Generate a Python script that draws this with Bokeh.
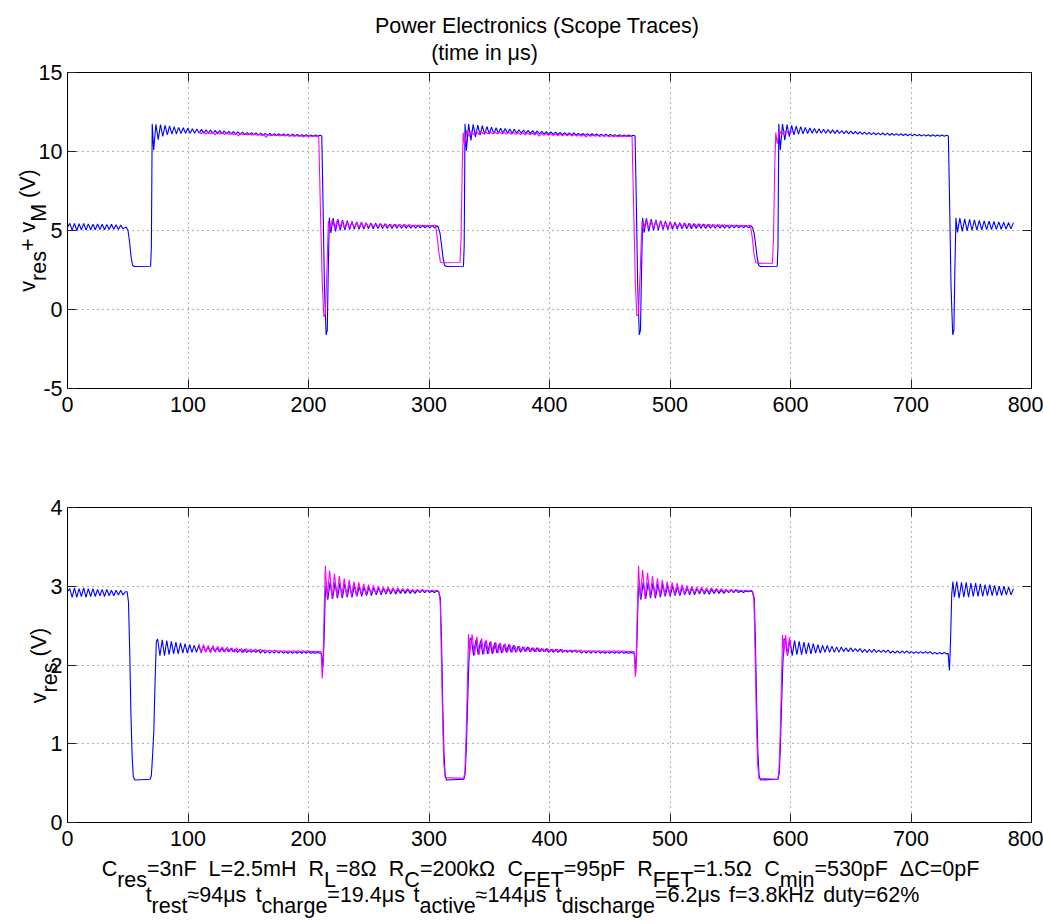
import re
import numpy as np
from bokeh.plotting import figure
from bokeh.models import LinearAxis, FixedTicker, CustomJSTickFormatter, Range1d, ColumnDataSource
from bokeh.core.properties import value
from bokeh.layouts import column
from bokeh.embed import file_html
from bokeh.resources import INLINE

# ---------------------------------------------------------------- axes data
X_TICKS = [0, 100, 200, 300, 400, 500, 600, 700, 800]
TOP_Y_TICKS = [-5, 0, 5, 10, 15]
BOT_Y_TICKS = [0, 1, 2, 3, 4]

# ---------------------------------------------------------------- v_res + v_M, measured (blue)
TB_IDLE0 = [5.2, 5.45, 5.02, 5.45, 5.0, 5.43, 5.04, 5.45, 5.03, 5.42, 5.05, 5.4, 5.05,
            5.42, 5.06, 5.4, 5.05, 5.38, 5.06, 5.4, 5.08, 5.37, 5.07, 5.35, 5.1, 5.2]
TB_EDGE1 = [(48.8, 5.2), (50.2, 5.0), (51.5, 4.3), (52.8, 3.3), (54.0, 2.8), (55.5, 2.72),
            (69.0, 2.74), (69.6, 4.0), (70.3, 11.75)]
TB_ACT1 = [10.1, 11.72, 10.75, 11.7, 10.95, 11.66, 11.05, 11.62, 11.1, 11.57,
           11.12, 11.53, 11.14, 11.5, 11.15, 11.47, 11.16, 11.44, 11.16, 11.42,
           11.16, 11.4, 11.15, 11.38, 11.15, 11.36, 11.14, 11.34, 11.13, 11.32,
           11.12, 11.3, 11.11, 11.28, 11.1, 11.26, 11.09, 11.24, 11.08, 11.22,
           11.07, 11.2, 11.06, 11.19, 11.05, 11.18, 11.04, 11.16, 11.03, 11.15,
           11.02, 11.14, 11.02, 11.13, 11.01, 11.12, 11.0, 11.11, 11.0, 11.1,
           10.99, 11.09, 10.98, 11.08, 10.98, 11.07, 10.97, 11.06, 10.97, 11.05,
           10.96, 11.04, 10.96, 11.03]
TB_DIS1 = [(211.0, 10.98), (212.0, 7.0), (213.2, 1.5), (214.6, -1.6), (215.6, -1.3),
           (216.4, 2.5), (217.3, 5.8)]
TB_IDLE1 = [4.85, 5.78, 4.95, 5.72, 5.0, 5.66, 5.03, 5.62, 5.05, 5.58,
            5.07, 5.55, 5.08, 5.52, 5.09, 5.5, 5.1, 5.48, 5.11, 5.46,
            5.12, 5.44, 5.12, 5.42, 5.13, 5.4, 5.13, 5.39, 5.14, 5.38,
            5.14, 5.37, 5.15, 5.36, 5.15, 5.35, 5.15, 5.34, 5.16, 5.34,
            5.16, 5.33, 5.16, 5.32, 5.17, 5.3]
TB_EDGE2 = [(307.8, 5.2), (309.2, 4.8), (310.5, 4.0), (311.8, 3.2), (313.0, 2.78), (314.5, 2.72),
            (328.6, 2.74), (329.2, 4.0), (329.9, 11.75)]
TB_ACT2 = [10.05, 11.74, 10.7, 11.72, 10.92, 11.67, 11.04, 11.63, 11.09, 11.58,
           11.11, 11.54, 11.13, 11.5, 11.15, 11.47, 11.15, 11.45, 11.16, 11.42,
           11.16, 11.4, 11.15, 11.38, 11.15, 11.36, 11.14, 11.34, 11.13, 11.32,
           11.12, 11.3, 11.11, 11.28, 11.1, 11.26, 11.09, 11.24, 11.08, 11.22,
           11.07, 11.21, 11.06, 11.19, 11.05, 11.18, 11.04, 11.17, 11.03, 11.15,
           11.03, 11.14, 11.02, 11.13, 11.01, 11.12, 11.01, 11.11, 11.0, 11.1,
           10.99, 11.09, 10.99, 11.08, 10.98, 11.07, 10.97, 11.06, 10.97, 11.05,
           10.96, 11.05, 10.96, 11.03]
TB_DIS2 = [(471.0, 10.98), (472.0, 7.0), (473.2, 1.5), (474.5, -1.6), (475.5, -1.3),
           (476.4, 2.5), (477.3, 5.8)]
TB_IDLE2 = [4.86, 5.77, 4.94, 5.72, 5.0, 5.67, 5.03, 5.62, 5.05, 5.59,
            5.06, 5.56, 5.08, 5.53, 5.09, 5.5, 5.1, 5.48, 5.11, 5.46,
            5.11, 5.44, 5.12, 5.42, 5.13, 5.41, 5.13, 5.39, 5.14, 5.38,
            5.14, 5.37, 5.15, 5.36, 5.15, 5.35, 5.15, 5.35, 5.16, 5.34,
            5.16, 5.33, 5.16, 5.32, 5.17, 5.3]
TB_EDGE3 = [(568.5, 5.2), (569.9, 4.8), (571.2, 4.0), (572.5, 3.2), (573.7, 2.78), (575.2, 2.72),
            (589.0, 2.74), (589.6, 4.0), (590.3, 11.75)]
TB_ACT3 = [10.1, 11.73, 10.72, 11.7, 10.94, 11.66, 11.05, 11.61, 11.1, 11.57,
           11.12, 11.53, 11.14, 11.49, 11.15, 11.46, 11.16, 11.44, 11.16, 11.41,
           11.16, 11.39, 11.15, 11.37, 11.15, 11.35, 11.14, 11.33, 11.13, 11.31,
           11.12, 11.29, 11.11, 11.27, 11.1, 11.25, 11.09, 11.23, 11.08, 11.21,
           11.07, 11.2, 11.06, 11.18, 11.05, 11.17, 11.04, 11.16, 11.03, 11.14,
           11.02, 11.13, 11.02, 11.12, 11.01, 11.11, 11.0, 11.1, 11.0, 11.09,
           10.99, 11.08, 10.98, 11.07, 10.98, 11.06, 10.97, 11.06, 10.97, 11.05,
           10.96, 11.04, 10.96, 11.03]
TB_DIS3 = [(731.0, 10.98), (732.0, 7.0), (733.2, 1.5), (734.6, -1.6), (735.6, -1.3),
           (736.4, 2.5), (737.3, 5.8)]
TB_IDLE3 = [4.88, 5.78, 4.94, 5.74, 4.98, 5.7, 5.0, 5.67, 5.02, 5.64,
            5.04, 5.61, 5.05, 5.59, 5.06, 5.57, 5.07, 5.55, 5.08, 5.53,
            5.09, 5.51, 5.1, 5.5]

# ---------------------------------------------------------------- v_res + v_M, simulated (magenta)
TM_ACT1 = [11.25, 11.12, 11.27, 11.1, 11.24, 11.12, 11.22, 11.05, 11.23, 11.1,
           11.2, 11.08, 11.19, 11.07, 11.18, 11.06, 11.17, 10.98, 11.15, 11.05,
           11.14, 11.04, 11.12, 11.03, 11.11, 11.02, 11.1, 11.01, 11.08, 10.9,
           11.07, 11.0, 11.06, 10.99, 11.05, 10.98, 11.04, 10.98, 11.03, 10.97,
           11.02, 10.97, 11.01, 10.96, 11.0, 10.92, 10.99, 10.96, 10.99, 10.95,
           10.98, 10.95]
TM_DIS1 = [(208.5, 10.95), (210.0, 6.0), (211.5, 1.5), (212.8, -0.45), (214.0, -0.3),
           (215.3, 2.5), (216.5, 5.6)]
TM_IDLE1 = [5.05, 5.7, 5.1, 5.65, 5.12, 5.6, 5.15, 5.56, 5.17, 5.53,
            5.18, 5.5, 5.2, 5.48, 5.2, 5.46, 5.21, 5.44, 5.22, 5.42,
            5.22, 5.41, 5.23, 5.4, 5.23, 5.39, 5.24, 5.38, 5.24, 5.37,
            5.25, 5.37, 5.25, 5.36, 5.25, 5.35, 5.26, 5.35, 5.26, 5.34,
            5.27, 5.34, 5.27, 5.33]
TM_EDGE2 = [(305.5, 5.3), (306.8, 4.6), (308.2, 3.6), (309.5, 3.0), (311.0, 2.96),
            (325.7, 2.97), (326.6, 4.5), (327.6, 9.0), (328.4, 11.2)]
TM_ACT2 = [10.4, 11.35, 10.95, 11.32, 11.05, 11.3, 11.1, 11.28, 11.12, 11.27,
           11.12, 11.26, 11.12, 11.25, 11.12, 11.24, 11.11, 11.23, 11.1, 11.22,
           11.09, 11.21, 11.08, 11.2, 11.07, 11.19, 11.06, 11.18, 11.05, 11.17,
           11.04, 11.16, 10.97, 11.15, 11.03, 11.14, 11.02, 11.13, 11.01, 11.12,
           11.0, 11.11, 11.0, 11.1, 10.99, 11.09, 10.98, 11.08, 10.98, 11.07,
           10.97, 11.06, 10.92, 11.05, 10.96, 11.04, 10.96, 11.03, 10.95, 11.02,
           10.95, 11.01, 10.94, 11.0, 10.94, 11.0, 10.93, 10.99, 10.95, 10.98,
           10.95, 10.97]
TM_DIS2 = [(468.5, 10.95), (470.0, 6.0), (471.3, 1.5), (472.5, -0.4), (473.8, -0.3),
           (475.3, 2.5), (476.8, 5.6)]
TM_IDLE2 = [5.06, 5.69, 5.1, 5.64, 5.13, 5.6, 5.15, 5.56, 5.17, 5.53,
            5.19, 5.5, 5.2, 5.48, 5.21, 5.46, 5.21, 5.44, 5.22, 5.42,
            5.22, 5.41, 5.23, 5.4, 5.24, 5.39, 5.24, 5.38, 5.25, 5.37,
            5.25, 5.36, 5.25, 5.36, 5.26, 5.35, 5.26, 5.35, 5.26, 5.34,
            5.27, 5.34, 5.27, 5.33]
TM_EDGE3 = [(566.8, 5.3), (568.2, 4.6), (569.6, 3.6), (571.0, 3.0), (572.5, 2.92),
            (585.0, 2.93), (585.9, 4.5), (586.9, 9.0), (587.8, 11.2)]
TM_ACT3 = [10.5, 11.35, 11.05, 11.3, 11.15, 11.3, 11.2, 11.28]

# ---------------------------------------------------------------- v_res, measured (blue)
BB_IDLE0 = [2.93, 2.97, 2.86, 2.98, 2.86, 2.97, 2.87, 2.98, 2.86, 2.97, 2.87, 2.97, 2.87,
            2.96, 2.88, 2.96, 2.87, 2.96, 2.88, 2.95, 2.88, 2.95, 2.89, 2.95, 2.89, 2.93]
BB_EDGE1 = [(49.5, 2.93), (50.6, 2.8), (51.6, 2.2), (52.6, 1.4), (53.6, 0.85), (54.6, 0.58),
            (55.8, 0.54), (68.6, 0.55), (69.6, 0.6), (70.6, 0.85), (71.6, 1.15), (72.6, 1.75),
            (73.7, 2.3)]
BB_ACT1 = [2.33, 2.12, 2.32, 2.12, 2.31, 2.13, 2.3, 2.14, 2.29, 2.14,
           2.28, 2.15, 2.27, 2.15, 2.26, 2.16, 2.25, 2.16, 2.25, 2.16,
           2.24, 2.17, 2.23, 2.17, 2.23, 2.17, 2.22, 2.17, 2.22, 2.17,
           2.21, 2.17, 2.21, 2.17, 2.2, 2.16, 2.2, 2.16, 2.2, 2.16,
           2.19, 2.16, 2.19, 2.16, 2.19, 2.15, 2.19, 2.15, 2.18, 2.15,
           2.18, 2.15, 2.18, 2.15, 2.18, 2.15, 2.17, 2.15, 2.17, 2.15,
           2.17, 2.15, 2.17, 2.15, 2.17, 2.15, 2.17, 2.15, 2.16, 2.15,
           2.16, 2.15]
BB_DIS1 = [(210.8, 2.15), (211.9, 1.97), (212.8, 2.25), (213.8, 2.85), (214.8, 3.05)]
BB_IDLE1 = [2.83, 3.06, 2.84, 3.05, 2.85, 3.04, 2.85, 3.03, 2.86, 3.02,
            2.86, 3.01, 2.87, 3.0, 2.87, 2.99, 2.88, 2.99, 2.88, 2.98,
            2.89, 2.98, 2.89, 2.97, 2.9, 2.97, 2.9, 2.97, 2.9, 2.96,
            2.91, 2.96, 2.91, 2.96, 2.91, 2.95, 2.91, 2.95, 2.92, 2.95,
            2.92, 2.95, 2.92, 2.94, 2.92, 2.94]
BB_EDGE2 = [(308.0, 2.93), (309.4, 2.85), (310.4, 2.3), (311.4, 1.5), (312.4, 0.9), (313.4, 0.6),
            (314.6, 0.54), (329.0, 0.55), (330.0, 0.62), (331.0, 0.95), (332.0, 1.5), (333.0, 2.0),
            (334.0, 2.33)]
BB_ACT2 = [2.34, 2.12, 2.32, 2.13, 2.31, 2.13, 2.3, 2.14, 2.29, 2.14,
           2.28, 2.15, 2.27, 2.15, 2.26, 2.16, 2.26, 2.16, 2.25, 2.16,
           2.24, 2.16, 2.23, 2.17, 2.23, 2.17, 2.22, 2.17, 2.22, 2.17,
           2.21, 2.17, 2.21, 2.16, 2.2, 2.16, 2.2, 2.16, 2.2, 2.16,
           2.19, 2.16, 2.19, 2.16, 2.19, 2.16, 2.18, 2.15, 2.18, 2.15,
           2.18, 2.15, 2.18, 2.15, 2.18, 2.15, 2.17, 2.15, 2.17, 2.15,
           2.17, 2.15, 2.17, 2.15, 2.17, 2.15, 2.16, 2.15, 2.16, 2.15]
BB_DIS2 = [(470.5, 2.15), (471.6, 1.9), (472.5, 2.25), (473.5, 2.85), (474.5, 3.05)]
BB_IDLE2 = [2.83, 3.05, 2.84, 3.05, 2.85, 3.04, 2.85, 3.03, 2.86, 3.02,
            2.87, 3.01, 2.87, 3.0, 2.88, 2.99, 2.88, 2.99, 2.89, 2.98,
            2.89, 2.98, 2.89, 2.97, 2.9, 2.97, 2.9, 2.96, 2.9, 2.96,
            2.91, 2.96, 2.91, 2.95, 2.91, 2.95, 2.92, 2.95, 2.92, 2.95,
            2.92, 2.94, 2.92, 2.94, 2.93, 2.94]
BB_EDGE3 = [(568.5, 2.93), (569.9, 2.85), (570.9, 2.3), (571.9, 1.5), (572.9, 0.9), (573.9, 0.6),
            (575.1, 0.54), (589.6, 0.55), (590.6, 0.62), (591.6, 0.95), (592.6, 1.5), (593.6, 2.0),
            (594.6, 2.33)]
BB_ACT3 = [2.33, 2.12, 2.32, 2.12, 2.31, 2.13, 2.3, 2.13, 2.29, 2.14,
           2.28, 2.14, 2.27, 2.15, 2.26, 2.15, 2.25, 2.16, 2.25, 2.16,
           2.24, 2.16, 2.23, 2.16, 2.23, 2.17, 2.22, 2.17, 2.22, 2.17,
           2.21, 2.17, 2.21, 2.16, 2.2, 2.16, 2.2, 2.16, 2.2, 2.16,
           2.19, 2.16, 2.19, 2.16, 2.19, 2.15, 2.18, 2.15, 2.18, 2.15,
           2.18, 2.15, 2.18, 2.15, 2.17, 2.15, 2.17, 2.15, 2.17, 2.15,
           2.17, 2.15, 2.17, 2.14, 2.16, 2.14, 2.16, 2.14, 2.16, 2.14]
BB_DIS3 = [(730.8, 2.15), (731.9, 1.93), (732.8, 2.3), (733.8, 2.9), (734.8, 3.06)]
BB_IDLE3 = [2.86, 3.06, 2.85, 3.05, 2.86, 3.05, 2.86, 3.04, 2.87, 3.04,
            2.87, 3.03, 2.87, 3.02, 2.88, 3.02, 2.88, 3.01, 2.88, 3.0,
            2.88, 3.0, 2.89, 2.99, 2.89, 2.97]

# ---------------------------------------------------------------- v_res, simulated (magenta)
BM_ACT1 = [2.27, 2.15, 2.26, 2.16, 2.25, 2.15, 2.25, 2.16, 2.24, 2.16,
           2.23, 2.16, 2.23, 2.17, 2.22, 2.16, 2.22, 2.17, 2.21, 2.16,
           2.21, 2.17, 2.2, 2.17, 2.2, 2.17, 2.2, 2.17, 2.19, 2.17,
           2.19, 2.17, 2.19, 2.17, 2.18, 2.17, 2.18, 2.17, 2.18, 2.17,
           2.18, 2.17, 2.18, 2.17, 2.18, 2.17, 2.18, 2.17, 2.17, 2.17,
           2.17, 2.17]
BM_DIS1 = [(210.4, 2.17), (211.4, 1.83), (212.2, 2.1), (213.0, 2.7), (214.0, 3.26)]
BM_IDLE1 = [2.85, 3.2, 2.84, 3.16, 2.86, 3.13, 2.86, 3.1, 2.87, 3.08,
            2.88, 3.06, 2.88, 3.05, 2.89, 3.03, 2.9, 3.02, 2.9, 3.01,
            2.91, 3.0, 2.91, 2.99, 2.92, 2.99, 2.92, 2.98, 2.92, 2.98,
            2.93, 2.97, 2.93, 2.97, 2.93, 2.96, 2.93, 2.96, 2.93, 2.96,
            2.94, 2.95, 2.94, 2.95, 2.94, 2.95]
BM_EDGE2 = [(308.0, 2.94), (309.3, 2.8), (310.3, 2.1), (311.3, 1.3), (312.3, 0.75), (313.4, 0.57),
            (328.8, 0.56), (329.8, 0.65), (330.8, 1.1), (331.8, 1.7), (332.8, 2.39)]
BM_ACT2 = [2.13, 2.39, 2.12, 2.36, 2.13, 2.34, 2.14, 2.32, 2.14, 2.3,
           2.15, 2.29, 2.15, 2.28, 2.16, 2.27, 2.16, 2.26, 2.16, 2.25,
           2.17, 2.24, 2.17, 2.23, 2.17, 2.23, 2.17, 2.22, 2.17, 2.22,
           2.17, 2.21, 2.17, 2.21, 2.17, 2.2, 2.17, 2.2, 2.17, 2.2,
           2.17, 2.19, 2.17, 2.19, 2.17, 2.19, 2.17, 2.19, 2.17, 2.18,
           2.17, 2.18, 2.17, 2.18, 2.17, 2.18, 2.17, 2.18, 2.17, 2.18,
           2.17, 2.18, 2.17, 2.18, 2.17, 2.18, 2.17, 2.17, 2.17, 2.17]
BM_DIS2 = [(470.2, 2.17), (471.2, 1.85), (472.0, 2.1), (472.9, 2.7), (473.9, 3.26)]
BM_IDLE2 = [2.85, 3.21, 2.84, 3.17, 2.86, 3.13, 2.86, 3.1, 2.87, 3.08,
            2.88, 3.06, 2.88, 3.05, 2.89, 3.04, 2.9, 3.02, 2.9, 3.01,
            2.91, 3.0, 2.91, 2.99, 2.92, 2.99, 2.92, 2.98, 2.92, 2.98,
            2.93, 2.97, 2.93, 2.97, 2.93, 2.96, 2.93, 2.96, 2.93, 2.96,
            2.94, 2.95, 2.94, 2.95, 2.94, 2.95]
BM_EDGE3 = [(568.5, 2.94), (569.7, 2.8), (570.7, 2.1), (571.7, 1.3), (572.7, 0.75), (573.8, 0.56),
            (589.4, 0.55), (590.4, 0.65), (591.4, 1.1), (592.4, 1.7), (593.4, 2.38)]
BM_ACT3 = [2.15, 2.38, 2.12, 2.35, 2.2]

# ---------------------------------------------------------------- trace assembly
# ("ring", t_start, t_end, values) spreads ringing extremes evenly over the span,
# ("knots", [(t, v), ...]) adds explicit vertices.
TOP_BLUE = [("ring", 0.0, 48.0, TB_IDLE0), ("knots", TB_EDGE1), ("ring", 71.5, 209.5, TB_ACT1),
            ("knots", TB_DIS1), ("ring", 218.5, 306.5, TB_IDLE1), ("knots", TB_EDGE2),
            ("ring", 331.0, 469.5, TB_ACT2), ("knots", TB_DIS2), ("ring", 478.5, 567.0, TB_IDLE2),
            ("knots", TB_EDGE3), ("ring", 591.5, 729.5, TB_ACT3), ("knots", TB_DIS3),
            ("ring", 738.5, 785.0, TB_IDLE3)]
TOP_MAGENTA = [("ring", 109.0, 207.0, TM_ACT1), ("knots", TM_DIS1), ("ring", 217.8, 304.5, TM_IDLE1),
               ("knots", TM_EDGE2), ("ring", 329.5, 467.0, TM_ACT2), ("knots", TM_DIS2),
               ("ring", 478.0, 565.5, TM_IDLE2), ("knots", TM_EDGE3), ("ring", 589.0, 602.0, TM_ACT3)]
BOT_BLUE = [("ring", 0.0, 48.0, BB_IDLE0), ("knots", BB_EDGE1), ("ring", 74.8, 209.5, BB_ACT1),
            ("knots", BB_DIS1), ("ring", 216.0, 306.5, BB_IDLE1), ("knots", BB_EDGE2),
            ("ring", 335.0, 469.5, BB_ACT2), ("knots", BB_DIS2), ("ring", 475.8, 567.0, BB_IDLE2),
            ("knots", BB_EDGE3), ("ring", 595.6, 729.5, BB_ACT3), ("knots", BB_DIS3),
            ("ring", 736.0, 785.0, BB_IDLE3)]
BOT_MAGENTA = [("ring", 109.0, 209.0, BM_ACT1), ("knots", BM_DIS1), ("ring", 215.5, 306.5, BM_IDLE1),
               ("knots", BM_EDGE2), ("ring", 333.8, 469.0, BM_ACT2), ("knots", BM_DIS2),
               ("ring", 475.3, 567.0, BM_IDLE2), ("knots", BM_EDGE3), ("ring", 594.5, 600.5, BM_ACT3)]

TITLE_1 = [("Power Electronics (Scope Traces)", 0)]
TITLE_2 = [("(time in \u03bcs)", 0)]
TOP_YLABEL = [("v", 0), ("res", 1), ("+ v", 0), ("M", 1), (" (V)", 0)]
BOT_YLABEL = [("v", 0), ("res", 1), (" (V)", 0)]
NOTE_1 = [("C", 0), ("res", 1), ("=3nF  L=2.5mH  R", 0), ("L", 1), ("=8\u03a9  R", 0), ("C", 1),
          ("=200k\u03a9  C", 0), ("FET", 1), ("=95pF  R", 0), ("FET", 1), ("=1.5\u03a9  C", 0),
          ("min", 1), ("=530pF  \u0394C=0pF", 0)]
NOTE_2 = [("t", 0), ("rest", 1), ("\u224894\u03bcs  t", 0), ("charge", 1), ("=19.4\u03bcs  t", 0),
          ("active", 1), ("\u2248144\u03bcs  t", 0), ("discharge", 1),
          ("=6.2\u03bcs  f=3.8kHz  duty=62%", 0)]


def build(parts):
    ts, vs = [], []
    for part in parts:
        if part[0] == "ring":
            _, t0, t1, vals = part
            ts.extend(np.linspace(t0, t1, len(vals)).tolist())
            vs.extend(vals)
        else:
            for t, v in part[1]:
                ts.append(t)
                vs.append(v)
    return ts, vs


# ---------------------------------------------------------------- text helpers
FONT = "Liberation Sans"
FS = 21.5
# Arial / Liberation Sans advance widths (em)
ADV = {" ": .278, "(": .333, ")": .333, "+": .584, "=": .584, "%": .889, ".": .278,
       "C": .722, "L": .556, "R": .722, "M": .833, "F": .611, "E": .667, "T": .611, "H": .722,
       "V": .667, "P": .667, "S": .667,
       "a": .556, "c": .5, "d": .556, "e": .556, "f": .278, "g": .556, "h": .556, "i": .222,
       "k": .5, "l": .222, "m": .833, "n": .556, "o": .556, "p": .556, "r": .333, "s": .5,
       "t": .278, "u": .556, "v": .5, "w": .722, "y": .5, "z": .5,
       "\u03a9": .768, "\u0394": .668, "\u03bc": .576, "\u2248": .584}


def width(s, space=None):
    if space is not None and s.isspace():
        return len(s) * space * FS
    return sum(ADV.get(ch, .556) for ch in s) * FS


def runs_width(runs, space=None):
    total = 0.0
    for txt, _ in runs:
        for tok in re.findall(r"\S+|\s+", txt):
            total += width(tok, space)
    return total


def layout_runs(runs, x0, y0, rotate=False, drop=11.0, split_words=True, space=None):
    """Page-pixel positions of each token of a text with subscripts (baseline start x0, y0)."""
    out = []
    adv = 0.0
    for txt, sub in runs:
        toks = re.findall(r"\S+|\s+", txt) if split_words else [txt]
        for tok in toks:
            if not tok.isspace():
                if rotate:
                    out.append((x0 + (drop if sub else 0), y0 - adv, tok))
                else:
                    out.append((x0 + adv, y0 + (drop if sub else 0), tok))
            adv += width(tok, space)
    return out


def add_text(p, fx, fy, items, angle=0):
    src = ColumnDataSource(dict(x=[fx(a) for a, _, _ in items], y=[fy(b) for _, b, _ in items],
                                text=[t for _, _, t in items]))
    p.text(x="x", y="y", text="text", source=src, angle=angle, angle_units="deg",
           text_font=value(FONT), text_font_size=value(f"{FS}px"), text_color="black",
           text_align="left", text_baseline="alphabetic", level="overlay")


# ---------------------------------------------------------------- panels
LEFT, RIGHT = 67, 12


def panel(height, top, bottom, y0, y1, yticks):
    p = figure(width=1043, height=height, output_backend="svg", toolbar_location=None,
               x_range=Range1d(0, 800), y_range=Range1d(y0, y1),
               min_border_left=LEFT, min_border_right=RIGHT,
               min_border_top=top, min_border_bottom=bottom)
    p.background_fill_color = "white"
    p.border_fill_color = "white"
    p.outline_line_color = "black"
    p.add_layout(LinearAxis(formatter=CustomJSTickFormatter(code="return ''")), "above")
    p.add_layout(LinearAxis(formatter=CustomJSTickFormatter(code="return ''")), "right")
    for ax in p.xaxis:
        ax.ticker = FixedTicker(ticks=X_TICKS)
    for ax in p.yaxis:
        ax.ticker = FixedTicker(ticks=yticks)
    for ax in p.axis:
        ax.axis_line_color = "black"
        ax.major_tick_in = 9
        ax.major_tick_out = 0
        ax.major_tick_line_color = "#222222"
        ax.minor_tick_line_color = None
        ax.major_label_text_font = FONT
        ax.major_label_text_font_size = f"{FS}px"
        ax.major_label_text_color = "black"
    p.below[0].major_label_standoff = 8
    p.left[0].major_label_standoff = 5
    p.left[0].major_label_overrides = {t: str(t) for t in yticks}
    for g in (p.xgrid, p.ygrid):
        g.grid_line_color = "black"
        g.grid_line_alpha = 0.6
        g.grid_line_dash = "1 4"
    return p


TOP_H, BOT_H = 440, 484
p1 = panel(TOP_H, 72, TOP_H - 72 - 316, -5, 15, TOP_Y_TICKS)
p2 = panel(BOT_H, 507 - TOP_H, BOT_H - 67 - 315, 0, 4, BOT_Y_TICKS)

for p, parts_b, parts_m in ((p1, TOP_BLUE, TOP_MAGENTA), (p2, BOT_BLUE, BOT_MAGENTA)):
    tb, vb = build(parts_b)
    tm, vm = build(parts_m)
    p.line(tb, vb, line_color="#0000ff", line_width=1.1)
    p.line(tm, vm, line_color="#ff00ff", line_width=1.1)

# page pixel -> data coordinates for each panel
fx = lambda px: (px - LEFT) * 800.0 / (1043 - LEFT - RIGHT)
fy1 = lambda py: 15.0 - (py - 72) * 20.0 / 316.0
fy2 = lambda py: 4.0 - (py - 507) * 4.0 / 315.0

# title (two lines) and notes under the lower panel
heads = (layout_runs(TITLE_1, 537 - runs_width(TITLE_1) / 2, 25, split_words=False)
         + layout_runs(TITLE_2, 484 - runs_width(TITLE_2) / 2, 52, split_words=False))
add_text(p1, fx, fy1, heads)
GAP2 = 0.2  # narrower word gaps on the second line
notes = (layout_runs(NOTE_1, 540 - runs_width(NOTE_1) / 2, 868)
         + layout_runs(NOTE_2, 532 - runs_width(NOTE_2, GAP2) / 2, 894, space=GAP2))
add_text(p2, fx, fy2, notes)

# rotated y labels
add_text(p1, fx, fy1, layout_runs(TOP_YLABEL, 27, 230 + runs_width(TOP_YLABEL) / 2, rotate=True), 90)
add_text(p2, fx, fy2, layout_runs(BOT_YLABEL, 38, 665 + runs_width(BOT_YLABEL) / 2, rotate=True), 90)

layout = column(p1, p2)
open("out.html", "w").write(file_html(layout, INLINE))
